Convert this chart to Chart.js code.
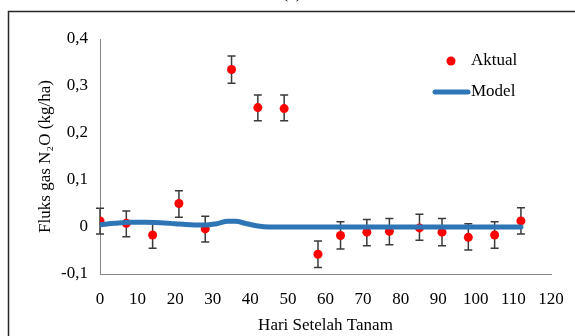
<!DOCTYPE html>
<html>
<head>
<meta charset="utf-8">
<script src="https://cdn.jsdelivr.net/npm/chart.js@4"></script>
<style>
  body { margin: 0; background: #fff; overflow: hidden; }
  #wrap { position: relative; width: 575px; height: 336px; }
  #tag { position: absolute; top: -17px; left: 272px; width: 40px; text-align: center;
         font: 17px "Liberation Serif", serif; line-height: 20px; color: #000; z-index: 2; }
</style>
</head>
<body>
<div id="wrap">
  <div id="tag">(a)</div>
  <canvas id="Graph" width="575" height="336"></canvas>
</div>
<script>
// observed flux (Aktual) with error bars
const days = [0, 7, 14, 21, 28, 35, 42, 49, 58, 64, 71, 77, 85, 91, 98, 105, 112];
const aktual = [0.013, 0.008, -0.017, 0.05, -0.004, 0.335, 0.254, 0.252, -0.058, -0.018, -0.011, -0.009, -0.002, -0.011, -0.022, -0.017, 0.013];
const errHigh = [0.040, 0.034, 0.011, 0.077, 0.023, 0.364, 0.281, 0.281, -0.030, 0.011, 0.016, 0.018, 0.027, 0.018, 0.007, 0.011, 0.041];
const errLow = [-0.015, -0.021, -0.045, 0.021, -0.032, 0.306, 0.226, 0.226, -0.086, -0.047, -0.040, -0.038, -0.028, -0.040, -0.049, -0.045, -0.015];

// model curve
const modelDays = [0, 4, 8, 12, 16, 20, 24, 28, 31, 34, 36, 39, 42, 45, 50, 60, 70, 80, 90, 100, 112];
const model = [0.005, 0.008, 0.010, 0.010, 0.009, 0.007, 0.005, 0.004, 0.007, 0.012, 0.012, 0.007, 0.002, 0.0, 0.0, 0.0, 0.0, 0.0, 0.0, 0.0, 0.0];

const xTicks = [0, 10, 20, 30, 40, 50, 60, 70, 80, 90, 100, 110, 120];
const yTicks = [-0.1, 0, 0.1, 0.2, 0.3, 0.4];

const FONT = '"Liberation Serif", serif';
const RED = '#ff0000';
const BLUE = '#2e75b6';

const errorBars = {
    id: 'errorBars',
    beforeDatasetsDraw(chart) {
        const ctx = chart.ctx;
        const xs = chart.scales.x, ys = chart.scales.y;
        ctx.save();
        ctx.strokeStyle = '#3a3a3a';
        ctx.lineWidth = 1.5;
        days.forEach((d, i) => {
            const px = xs.getPixelForValue(d);
            const top = ys.getPixelForValue(errHigh[i]);
            const bot = ys.getPixelForValue(errLow[i]);
            ctx.beginPath();
            ctx.moveTo(px, top); ctx.lineTo(px, bot);
            ctx.moveTo(px - 4, top); ctx.lineTo(px + 4, top);
            ctx.moveTo(px - 4, bot); ctx.lineTo(px + 4, bot);
            ctx.stroke();
        });
        ctx.restore();
    }
};

const frameAndLegend = {
    id: 'frameAndLegend',
    afterDraw(chart) {
        const ctx = chart.ctx;
        ctx.save();
        ctx.strokeStyle = '#262626';
        ctx.lineWidth = 1.5;
        ctx.beginPath();
        ctx.moveTo(8.5, 336); ctx.lineTo(8.5, 11.5); ctx.lineTo(575, 11.5);
        ctx.stroke();

        const ds = chart.data.datasets;
        ctx.font = '17px ' + FONT;
        ctx.textBaseline = 'middle';
        ctx.textAlign = 'left';
        ctx.fillStyle = RED;
        ctx.beginPath(); ctx.arc(451, 61, 4.5, 0, Math.PI * 2); ctx.fill();
        ctx.fillStyle = '#000';
        ctx.fillText(ds[0].label, 471, 61);
        ctx.strokeStyle = BLUE;
        ctx.lineWidth = 5;
        ctx.lineCap = 'round';
        ctx.beginPath(); ctx.moveTo(435, 92); ctx.lineTo(468, 92); ctx.stroke();
        ctx.fillText(ds[1].label, 471, 92);
        ctx.restore();
    }
};

const ctx = document.getElementById('Graph');

new Chart(ctx, {
    type: 'scatter',
    data: {
        datasets: [
            {
                label: 'Aktual',
                data: days.map((d, i) => ({ x: d, y: aktual[i] })),
                backgroundColor: RED,
                borderColor: RED,
                pointRadius: 4.5,
                borderWidth: 0,
                order: 1
            },
            {
                label: 'Model',
                data: modelDays.map((d, i) => ({ x: d, y: model[i] })),
                showLine: true,
                borderColor: BLUE,
                borderWidth: 5,
                pointRadius: 0,
                cubicInterpolationMode: 'monotone',
                borderCapStyle: 'round',
                order: 0
            }
        ]
    },
    options: {
        responsive: false,
        animation: false,
        layout: { padding: { left: 10, top: 39, right: 24, bottom: 0 } },
        plugins: {
            legend: { display: false },
            tooltip: { enabled: false }
        },
        scales: {
            x: {
                type: 'linear',
                min: 0, max: 120,
                afterBuildTicks: (s) => { s.ticks = xTicks.map(v => ({ value: v })); },
                grid: { display: false, drawTicks: true, tickLength: 5, tickColor: '#868686' },
                border: { color: '#868686', width: 1 },
                ticks: { color: '#000', font: { family: FONT, size: 17 }, padding: 10, maxRotation: 0 },
                title: { display: true, text: 'Hari Setelah Tanam', color: '#000', font: { family: FONT, size: 17 }, padding: { top: 3, bottom: 0 } },
                afterFit: (s) => { s.height = 62; }
            },
            y: {
                type: 'linear',
                min: -0.1, max: 0.4,
                afterBuildTicks: (s) => { s.ticks = yTicks.map(v => ({ value: v })); },
                grid: { display: false, drawTicks: true, tickLength: 5, tickColor: '#868686' },
                border: { color: '#868686', width: 1 },
                ticks: {
                    color: '#000', font: { family: FONT, size: 17 }, padding: 7,
                    callback: (v) => Math.abs(v) < 1e-9 ? '0' : v.toFixed(1).replace('.', ',')
                },
                title: { display: true, text: 'Fluks gas N₂O (kg/ha)', color: '#000', font: { family: FONT, size: 17 }, padding: { top: 25, bottom: 0 } },
                afterFit: (s) => { s.width = 90; }
            }
        }
    },
    plugins: [errorBars, frameAndLegend]
});
</script>
</body>
</html>
